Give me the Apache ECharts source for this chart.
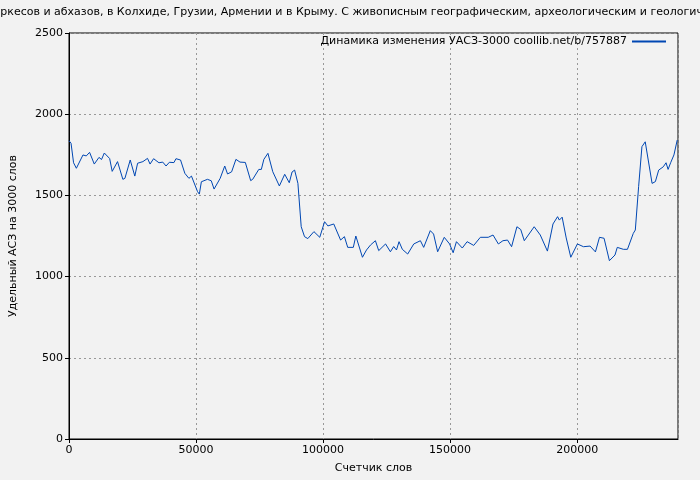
<!DOCTYPE html>
<html>
<head>
<meta charset="utf-8">
<script src="https://cdn.jsdelivr.net/npm/echarts@6/dist/echarts.min.js"></script>
<style>html,body{margin:0;padding:0;background:#f2f2f2}#chart{width:700px;height:480px}</style>
</head>
<body>
<div id="chart"></div>
<script>
var words=[0,800,1800,2900,5500,6800,8100,9950,11800,12800,13900,16000,17000,19100,21200,22000,24100,25900,27000,29100,30900,31900,33300,35400,36900,38200,39500,41300,42100,43900,45600,47200,48200,50600,51300,52100,54500,56000,57100,59500,61300,62400,64000,65700,67300,69400,71500,72300,74700,75700,76700,78300,80200,82800,84900,86700,87800,88800,90100,91400,92700,94000,96400,98700,100600,101900,104200,106900,108400,109700,111900,112900,115500,117100,118700,120600,121900,124600,126500,127800,128900,129900,131200,133300,135700,138300,139600,142200,143500,145100,147700,149800,151200,152500,154800,156700,159300,161900,165000,166900,169000,170800,172600,174200,176300,177800,179200,183100,185500,188300,190500,192300,193000,194100,195700,197500,200100,202500,205100,207200,208800,210600,212700,214900,215800,218200,219800,222100,222900,224200,225500,226800,229500,230800,232100,233900,235000,235800,236800,238100,239400];
var asz=[1837,1821,1701,1667,1749,1743,1765,1693,1734,1721,1761,1727,1648,1708,1599,1605,1718,1619,1698,1708,1728,1693,1726,1701,1705,1681,1704,1702,1726,1718,1636,1605,1619,1523,1508,1584,1599,1590,1539,1605,1681,1632,1645,1722,1705,1703,1591,1599,1660,1660,1722,1759,1646,1558,1630,1578,1644,1656,1574,1307,1246,1234,1277,1242,1338,1312,1324,1225,1246,1180,1180,1250,1119,1164,1195,1221,1160,1201,1153,1185,1164,1215,1168,1139,1201,1221,1180,1283,1262,1153,1242,1201,1147,1215,1176,1215,1192,1242,1242,1256,1201,1221,1225,1184,1307,1290,1221,1307,1256,1157,1324,1369,1348,1366,1238,1119,1201,1184,1188,1152,1242,1236,1098,1133,1180,1168,1168,1266,1287,1554,1800,1830,1574,1585,1656,1676,1701,1660,1701,1749,1841];
var title='черкесов и абхазов, в Колхиде, Грузии, Армении и в Крыму. С живописным географическим, археологическим и геологическим описанием';
var seriesName='Динамика изменения УАСЗ-3000 coollib.net/b/757887';
var pts=words.map(function(w,i){return [w,asz[i]];});
var chart=echarts.init(document.getElementById('chart'));
var txt={fontFamily:'DejaVu Sans',fontSize:11,color:'#000'};
chart.setOption({
  backgroundColor:'#f2f2f2',
  animation:false,
  title:{text:title,left:-13,top:2,padding:[5,0],textStyle:{fontFamily:'DejaVu Sans',fontSize:11,fontWeight:'normal',color:'#000'}},
  legend:{data:[seriesName],right:34,top:36,itemWidth:34,itemHeight:2,itemGap:5,icon:'rect',align:'right',textStyle:txt,padding:0},
  grid:{left:68,right:22,top:33,bottom:41,show:true,borderColor:'#000',borderWidth:1,backgroundColor:'transparent'},
  xAxis:{type:'value',min:0,max:239700,interval:50000,
    name:'Счетчик слов',nameLocation:'middle',nameGap:24,nameTextStyle:txt,
    axisLine:{lineStyle:{color:'#000'}},axisTick:{lineStyle:{color:'#000'},length:4},
    axisLabel:Object.assign({margin:6,showMaxLabel:false,formatter:function(v){return String(v);}},txt),
    splitLine:{show:true,lineStyle:{color:'#999',type:[2,3]}}},
  yAxis:{type:'value',min:0,max:2500,interval:500,
    name:'Удельный АСЗ на 3000 слов',nameLocation:'middle',nameGap:50,nameTextStyle:txt,
    axisLine:{show:true,lineStyle:{color:'#000'}},axisTick:{show:true,lineStyle:{color:'#000'},length:4},
    axisLabel:Object.assign({margin:6,formatter:function(v){return String(v);}},txt),
    splitLine:{show:true,lineStyle:{color:'#999',type:[2,3]}}},
  series:[{name:seriesName,type:'line',data:pts,showSymbol:false,
    lineStyle:{color:'#0047b3',width:1},itemStyle:{color:'#0047b3'}}]
});
</script>
</body>
</html>
